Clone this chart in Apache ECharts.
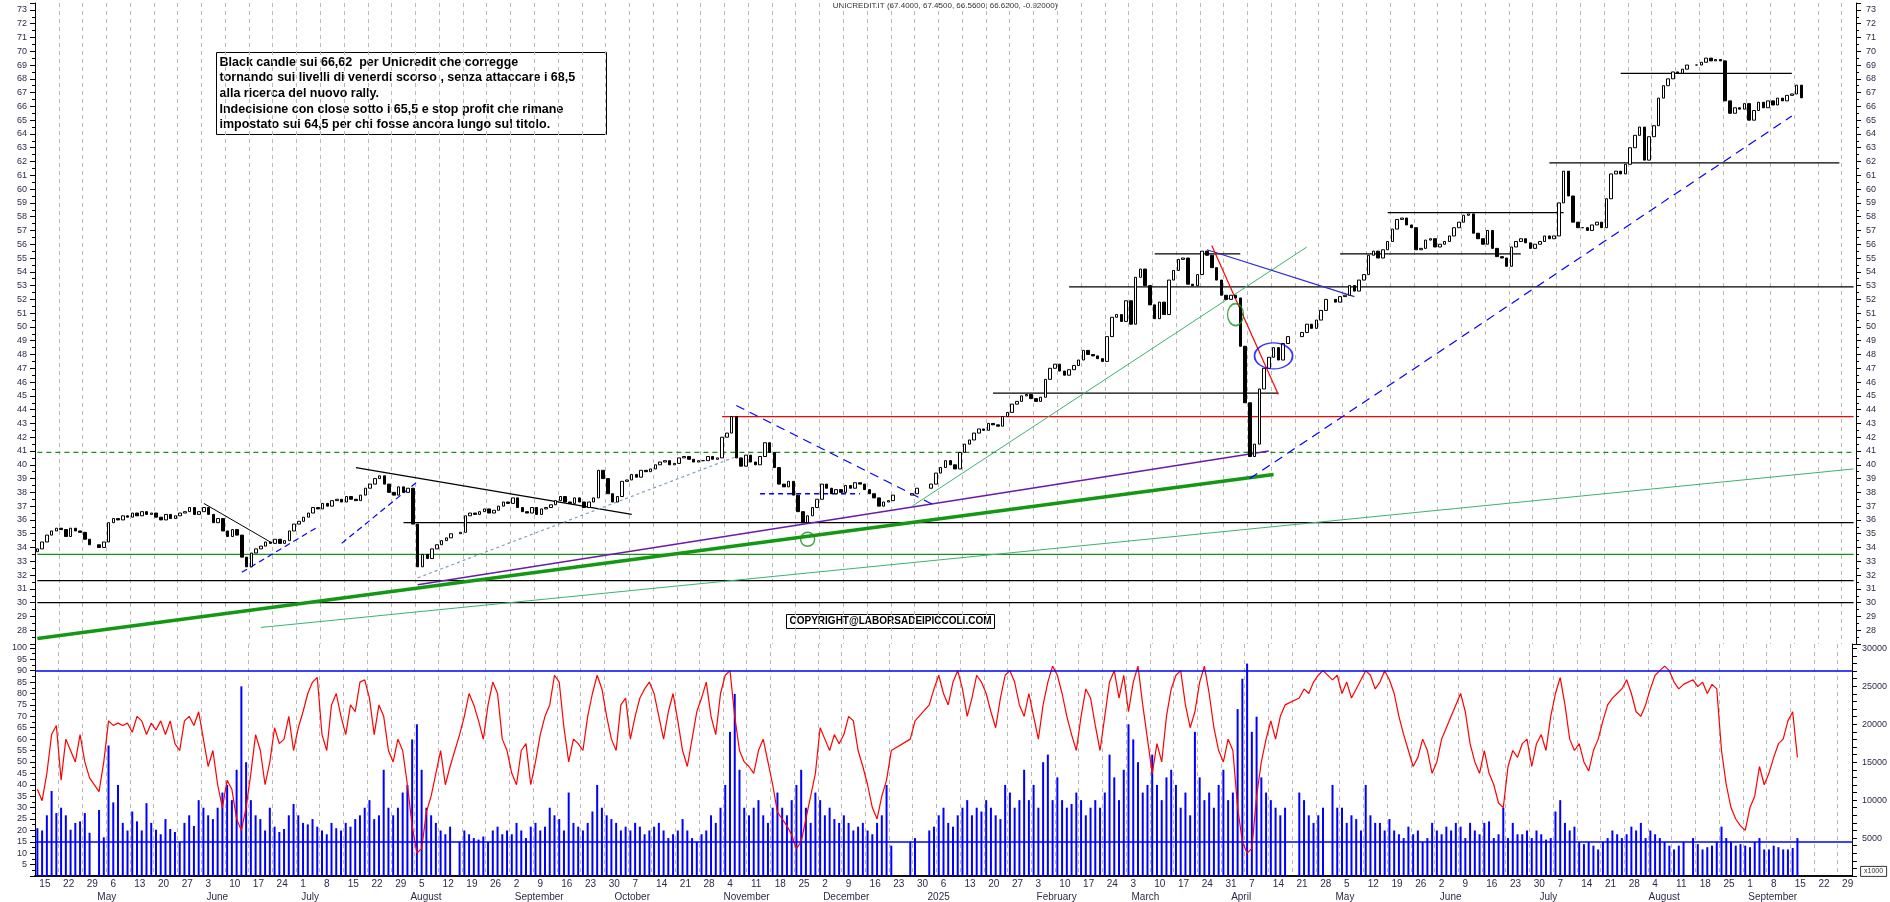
<!DOCTYPE html>
<html>
<head>
<meta charset="utf-8">
<script src="https://cdn.jsdelivr.net/npm/echarts@6/dist/echarts.min.js"></script>
<style>
  html, body { margin: 0; padding: 0; background: #fff; }
  #main { width: 1890px; height: 902px; }
</style>
</head>
<body>
<div id="main"></div>
<script>
// chiusure giornaliere, una riga per settimana (lun..ven), null = borsa chiusa
const closes = [
  33.9, 34.4, 34.9, 35.2, 35.4,   // 2024-04-15
  35.3, 34.8, 35.4, 35.2, 35.1,
  34.6, 34.2, null, 34.0, 34.4,
  35.8, 36.1, 36.0, 36.3, 36.2,   // 05-06
  36.5, 36.3, 36.6, 36.4, 36.5,
  36.2, 36.0, 36.4, 36.1, 36.3,
  36.5, 36.6, 36.9, 36.4, 36.6,
  36.9, 36.4, 35.8, 36.1, 35.2,   // 06-03
  34.8, 35.3, 34.9, 33.3, 32.6,
  33.6, 33.9, 34.1, 34.4, 34.3,
  34.6, 34.3, 34.5, 35.2, 35.7,
  35.9, 36.2, 36.5, 36.9, 36.8,   // 07-01
  37.2, 37.0, 37.4, 37.5, 37.3,
  37.7, 37.5, 37.4, 37.8, 38.3,
  38.6, 39.0, 39.2, 38.6, 38.0,
  37.8, 38.4, 38.0, 38.3, 35.7,
  32.6, 33.5, 33.2, 33.9, 34.2,   // 08-05
  34.5, 34.7, 35.0, null, 35.1,
  36.3, 36.5, 36.4, 36.6, 36.8,
  36.5, 36.7, 37.0, 37.3, 37.2,
  37.6, 36.9, 36.6, 36.5, 36.9,   // 09-02
  36.4, 36.8, 36.9, 37.1, 37.4,
  37.7, 37.3, 37.2, 37.6, 37.3,
  36.9, 37.3, 37.6, 39.6, 39.0,
  37.9, 37.3, 37.7, 38.8, 38.9,   // 09-30
  39.3, 39.1, 39.6, 39.5, 39.7,
  40.0, 40.2, 40.3, 40.0, 40.1,
  40.5, 40.6, 40.4, 40.2, 40.3,
  40.3, 40.6, 40.4, 40.5, 42.0,
  42.3, 43.5, 40.5, 39.9, 40.7,   // 11-04
  40.2, 40.0, 40.6, 41.6, 40.9,
  39.8, 38.6, 38.4, 38.8, 37.8,
  36.6, 35.8, 36.3, 36.9, 37.5,
  38.6, 38.3, 37.9, 38.2, 38.0,   // 12-02
  38.5, 38.3, 38.7, 38.6, 38.2,
  37.9, 37.6, 37.0, 37.3, 37.4,
  37.8, null, null, null, 37.9,
  38.3, null, null, 38.6, 39.4,
  39.8, 40.3, 40.0, 39.7, 40.9,   // 2025-01-06
  41.5, 41.8, 42.3, 42.6, 42.5,
  43.0, 42.9, 42.8, 43.5, 43.8,
  44.4, 44.6, 45.0, 45.1, 44.8,
  44.6, 44.9, 46.2, 47.0, 47.3,   // 02-03
  46.8, 46.5, 46.9, 47.2, 47.6,
  48.3, 48.0, 47.9, 47.7, 47.5,
  49.3, 50.7, 50.9, 50.4, 51.9,
  50.2, 53.6, 54.2, 53.0, 51.6,   // 03-03
  50.6, 51.8, 50.9, 53.4, 54.1,
  54.9, 55.0, 53.1, 53.0, 53.8,
  55.5, 55.2, 54.3, 53.4, 52.3,
  52.0, 52.3, 52.1, 48.6, 44.5,
  40.6, 41.5, 45.5, 47.0, 47.8,   // 04-07
  48.5, 47.6, 48.8, 49.3, null,
  null, 49.6, 50.2, 49.9, 50.5,
  51.2, 52.0, null, 51.8, 52.2,
  52.3, 53.0, 52.6, 53.4, 53.8,   // 05-05
  55.2, 55.5, 55.0, 55.6, 56.2,
  57.1, 57.8, 57.9, 57.4, 57.2,
  55.6, 55.7, 56.3, 56.4, 55.8,
  56.0, 56.2, 56.6, 57.2, 57.6,   // 06-02
  58.1, 58.2, 56.8, 56.4, 56.0,
  57.0, 55.7, 55.1, 55.0, 54.4,
  55.8, 56.2, 56.4, 56.1, 55.7,
  56.0, 56.2, 56.6, 56.4, 56.6,
  59.0, 61.3, 59.5, 57.6, 57.2,   // 07-07
  57.2, 57.0, 57.4, 57.6, 57.2,
  59.3, 61.1, 61.3, 61.1, 61.8,
  63.0, 63.9, 64.5, 62.1, 63.8,
  64.6, 66.6, 67.5, 68.0, 68.5,   // 08-04
  68.4, 68.7, 69.0, null, 69.0,
  69.2, 69.5, 69.3, 69.4, 69.3,
  66.4, 65.5, 65.9, 65.8, 66.2,
  65.0, 65.7, 66.3, 65.9, 66.4,   // 09-01
  66.1, 66.6, 66.4, 66.8, 66.9,
  67.54, 66.62
];

// oscillatore (scala 0-100)
const osc = [
  38, 33, 45, 62, 66,  42, 60, 55, 50, 62,  50, 43, null, 37, 50,
  68, 66, 67, 66, 67,  63, 70, 68, 62, 67,  64, 68, 62, 68, 58,  55, 68, 70, 66, 72,
  60, 48, 55, 40, 30,  42, 38, 25, 20, 30,  45, 62, 55, 40, 50,  65, 58, 60, 70, 55,
  65, 72, 80, 85, 87,  62, 55, 75, 80, 70,  62, 75, 72, 85, 86,  78, 62, 75, 70, 55,  50, 60, 55, 40, 22,
  10, 12, 28, 35, 45,  55, 40, 48, null, 62,  70, 80, 75, 68, 60,  75, 85, 80, 60, 55,
  45, 40, 55, 58, 40,  50, 62, 70, 75, 88,  85, 65, 50, 60, 58,  55, 70, 80, 88, 82,
  70, 60, 55, 75, 78,  60, 70, 78, 82, 85,  80, 70, 60, 72, 80,  68, 55, 48, 60, 72,  78, 85, 70, 62, 80,
  88, 90, 70, 55, 50,  48, 45, 55, 60, 50,  40, 28, 25, 22, 18,  12, 15, 25, 35, 45,
  65, 60, 55, 62, 58,  62, 70, 68, 55, 48,  40, 30, 25, 35, 42,  55, null, null, null, 60,  68, null, null, 75, 82,
  88, 80, 75, 85, 90,  82, 70, 78, 88, 85,  80, 72, 65, 78, 88,  90, 85, 75, 70, 80,
  70, 60, 75, 85, 92,  88, 80, 70, 62, 55,  70, 82, 78, 66, 55,  70, 85, 90, 78, 88,
  72, 85, 92, 75, 60,  45, 58, 50, 70, 82,  88, 90, 75, 65, 72,  85, 92, 80, 65, 55,  50, 60, 55, 30, 15,
  10, 12, 35, 50, 60,  68, 60, 70, 75, null,  null, 78, 82, 80, 85,  88, 90, null, 86, 88,
  80, 85, 78, 82, 86,  90, 88, 82, 85, 90,  86, 80, 70, 62, 55,  48, 52, 60, 55, 45,
  50, 60, 65, 70, 75,  80, 72, 58, 50, 45,  55, 45, 40, 32, 30,  48, 55, 52, 58, 60,  48, 58, 62, 55, 70,
  80, 87, 75, 60, 55,  58, 50, 46, 55, 60,  68, 75, 78, 80, 82,  86, 80, 72, 70, 75,
  82, 88, 90, 92, 90,  85, 82, 84, null, 86,  83, 85, 80, 84, 82,  55, 40, 30, 25, 22,
  20, 30, 35, 48, 40,  45, 52, 58, 60, 68,  72, 52
];

// volumi (x1000)
const volume = [
  6.3, 6.0, 8.0, 11.2, 8.3,  9.0, 8.0, 6.1, 7.0, 7.2,  8.3, 5.7, null, 8.7, 5.1,
  17.2, 9.7, 12.0, 7.0, 6.0,  8.5, 7.2, 6.0, 9.6, 7.0,  6.1, 5.5, 7.5, 6.2, 5.8,  4.5, 7.0, 8.0, 6.6, 10.0,
  9.0, 8.0, 7.5, 9.0, 11.0,  12.0, 10.0, 14.0, 25.0, 15.0,  10.0, 8.0, 7.5, 6.0, 9.0,  6.5, 5.8, 6.2, 8.0, 9.5,
  8.0, 7.0, 6.8, 7.5, 6.5,  6.0, 5.5, 7.0, 6.3, 6.0,  7.0, 6.5, 7.5, 8.0, 9.0,  10.0, 7.5, 8.0, 14.0, 9.0,  8.0, 9.0, 11.0, 12.0, 18.0,
  20.0, 14.0, 9.0, 8.0, 7.0,  6.0, 5.5, 6.5, null, 4.5,  6.0, 5.5, 5.0, 4.8, 5.2,  4.5, 6.0, 6.5, 5.5, 6.0,
  5.5, 7.0, 6.0, 5.0, 6.5,  7.0, 6.0, 6.5, 9.0, 8.0,  7.5, 6.0, 11.0, 7.0, 6.5,  6.0, 7.0, 8.5, 12.0, 9.0,
  8.0, 7.5, 7.0, 6.0, 6.5,  6.0, 7.0, 6.5, 5.5, 6.0,  6.5, 7.0, 6.0, 5.0, 5.5,  6.0, 7.5, 6.0, 5.0, 4.5,  5.5, 6.0, 8.0, 7.0, 9.0,
  12.0, 19.0, 24.0, 14.0, 9.0,  8.0, 9.0, 10.0, 8.0, 7.0,  9.0, 11.0, 9.0, 8.0, 10.0,  12.0, 14.0, 9.0, 7.0, 11.0,
  10.0, 8.0, 9.0, 7.5, 7.0,  8.0, 7.0, 6.0, 6.5, 7.0,  6.0, 5.5, 7.0, 8.0, 12.0,  4.0, null, null, null, 4.5,  5.0, null, null, 6.0, 6.5,
  8.0, 9.0, 7.0, 6.5, 8.0,  9.0, 10.0, 8.0, 9.0, 8.5,  10.0, 9.0, 8.0, 7.5, 12.0,  11.0, 9.0, 10.0, 14.0, 10.0,
  12.0, 9.0, 15.0, 16.0, 10.0,  13.0, 10.0, 9.0, 9.5, 11.0,  10.0, 8.0, 9.0, 10.0, 9.0,  11.0, 16.0, 13.0, 10.0, 14.0,
  20.0, 18.0, 15.0, 11.0, 12.0,  16.0, 12.0, 10.0, 13.0, 14.0,  12.0, 9.0, 11.0, 8.0, 19.0,  13.0, 10.0, 11.0, 9.0, 12.0,  14.0, 10.0, 11.0, 22.0, 26.0,
  28.0, 19.0, 21.0, 13.0, 11.0,  10.0, 9.0, 8.0, 9.0, null,  null, 11.0, 10.0, 8.0, 7.0,  8.0, 9.0, null, 12.0, 9.0,
  9.0, 7.0, 8.0, 7.5, 6.0,  12.0, 8.0, 7.0, 7.0, 6.0,  7.5, 6.0, 5.5, 5.0, 6.5,  5.5, 6.0, 4.5, 5.0, 7.0,
  6.0, 5.5, 6.5, 6.0, 7.0,  6.5, 5.0, 7.0, 6.0, 5.5,  7.0, 7.2, 5.0, 5.5, 9.0,  5.0, 7.0, 5.5, 5.5, 6.0,  5.0, 6.0, 5.5, 4.8, 5.0,
  8.5, 10.0, 7.0, 6.0, 6.5,  4.5, 4.2, 4.5, 4.0, 3.5,  4.5, 5.0, 6.0, 5.5, 5.0,  5.5, 6.5, 6.0, 7.0, 5.0,
  6.0, 5.5, 5.0, 4.5, 4.0,  3.5, 4.0, 4.5, null, 5.0,  4.2, 3.5, 3.8, 4.0, 4.5,  6.5, 5.0, 4.5, 4.0, 4.2,
  4.0, 3.8, 4.5, 5.0, 3.5,  3.5, 4.0, 3.8, 3.5, 3.5,  3.7, 5.0
];

// livelli orizzontali [prezzo, da, a]
const levels = [
  [40.9, '2024-04-15', '2025-10-01'],
  [33.5, '2024-04-15', '2025-10-01'],
  [31.6, '2024-04-15', '2025-10-01'],
  [30.0, '2024-04-15', '2025-10-01'],
  [35.8, '2024-07-31', '2025-10-01'],
  [43.5, '2024-11-01', '2025-10-01'],
  [45.2, '2025-01-21', '2025-04-15'],
  [52.9, '2025-02-12', '2025-10-01'],
  [55.3, '2025-03-10', '2025-04-03'],
  [55.3, '2025-05-02', '2025-06-25'],
  [58.3, '2025-05-16', '2025-07-08'],
  [61.9, '2025-07-03', '2025-09-26'],
  [68.4, '2025-07-24', '2025-09-12'],
  [37.9, '2024-11-13', '2024-12-12']
];
const levelColors = ['#1a8f1a', '#1a8f1a', '#000', '#000', '#000', '#ff0000', '#000', '#000', '#000', '#000', '#000', '#000', '#000', '#0000ff'];

// trendline [da, valore, a, valore]
const trends = [
  ['2024-04-15', 27.4, '2025-04-14', 39.3],
  ['2024-08-05', 31.3, '2025-04-11', 41.0],
  ['2024-06-19', 28.2, '2025-10-01', 39.7],
  ['2024-12-27', 37.0, '2025-04-23', 55.8],
  ['2025-04-07', 39.0, '2025-09-12', 65.3],
  ['2024-06-13', 32.2, '2024-07-05', 35.5],
  ['2024-07-12', 34.3, '2024-08-05', 38.8],
  ['2024-06-03', 37.2, '2024-06-21', 34.4],
  ['2024-07-17', 39.8, '2024-10-07', 36.4],
  ['2024-08-05', 31.8, '2024-11-06', 40.6],
  ['2024-11-06', 44.3, '2025-01-03', 37.0],
  ['2025-03-25', 55.6, '2025-05-07', 52.2],
  ['2025-03-26', 55.9, '2025-04-15', 45.1]
];
const trendStyles = [
  ['#139813', 3.5, 'solid'], ['#6a1aa8', 1.5, 'solid'], ['#3cb371', 1, 'solid'],
  ['#3cb371', 1, 'solid'], ['#0000ff', 1.2, [9, 6]], ['#0000ff', 1.2, [6, 4]],
  ['#0000ff', 1.2, [6, 4]], ['#000', 1, 'solid'], ['#000', 1.2, 'solid'],
  ['#7f9fbf', 1.2, [3, 3]], ['#0000ff', 1.2, [9, 6]], ['#2b2bd6', 1.2, 'solid'],
  ['#ff0000', 1.2, 'solid']
];

// cerchi di evidenza [data, prezzo]
const marks = [['2025-04-02', 50.9], ['2025-04-14', 47.9], ['2024-11-27', 34.6]];
const markStyles = [['#1a8f1a', [16, 22]], ['#0000ff', [38, 26]], ['#1a8f1a', [14, 14]]];

const title = 'UNICREDIT.IT (67.4000, 67.4500, 66.5600, 66.6200, -0.92000)';
const noteLines = [
  'Black candle sui 66,62  per Unicredit che corregge',
  'tornando sui livelli di venerdi scorso , senza attaccare i 68,5',
  'alla ricerca del nuovo rally.',
  'Indecisione con close sotto i 65,5 e stop profit che rimane',
  'impostato sui 64,5 per chi fosse ancora lungo sul titolo.'
];
const copyright = 'COPYRIGHT@LABORSADEIPICCOLI.COM';
const monthNames = ['2025', 'February', 'March', 'April', 'May', 'June', 'July', 'August', 'September', 'October', 'November', 'December'];

// giorni feriali dal 15/04/2024 al 01/10/2025
const days = [];
for (let t = Date.UTC(2024, 3, 15); t <= Date.UTC(2025, 9, 1); t += 86400000) {
  const d = new Date(t);
  if (d.getUTCDay() > 0 && d.getUTCDay() < 6) days.push(d.toISOString().slice(0, 10));
}
const isMonday = (s) => new Date(s + 'T00:00:00Z').getUTCDay() === 1;
const monthStart = {};
days.forEach((s, i) => { const k = s.slice(0, 7); if (!(k in monthStart)) monthStart[k] = i; });
const isMonthStart = (i) => monthStart[days[i].slice(0, 7)] === i && i > 0;

const candles = [];
let prev = 33.7;
days.forEach((s, i) => {
  const c = closes[i];
  if (c == null) { candles.push('-'); return; }
  candles.push([prev, c, Math.min(prev, c), Math.max(prev, c)]);
  prev = c;
});
const pad = (arr) => days.map((s, i) => (arr[i] == null ? '-' : arr[i]));

const series = [{
  type: 'candlestick', xAxisIndex: 0, yAxisIndex: 0, data: candles, barWidth: 3,
  itemStyle: { color: '#fff', color0: '#000', borderColor: '#000', borderColor0: '#000', borderWidth: 1 },
  z: 5
}];
levels.forEach((l, k) => {
  series.push({
    type: 'line', xAxisIndex: 0, yAxisIndex: 0, symbol: 'none', silent: true, z: 3,
    data: [[l[1], l[0]], [l[2], l[0]]],
    lineStyle: { color: levelColors[k], width: k === 13 ? 1.5 : 1.3, type: (k === 0 || k === 13) ? [5, 4] : 'solid' }
  });
});
trends.forEach((t, k) => {
  series.push({
    type: 'line', xAxisIndex: 0, yAxisIndex: 0, symbol: 'none', silent: true, z: 4,
    data: [[t[0], t[1]], [t[2], t[3]]],
    lineStyle: { color: trendStyles[k][0], width: trendStyles[k][1], type: trendStyles[k][2] }
  });
});
marks.forEach((m, k) => {
  series.push({
    type: 'scatter', xAxisIndex: 0, yAxisIndex: 0, data: [m], symbol: 'circle', z: 6,
    symbolSize: markStyles[k][1],
    itemStyle: { color: 'rgba(0,0,0,0)', borderColor: markStyles[k][0], borderWidth: 1.5 }
  });
});
series.push({
  type: 'bar', xAxisIndex: 1, yAxisIndex: 3, data: pad(volume), barWidth: 2,
  itemStyle: { color: '#0000ff' },
  markLine: {
    symbol: 'none', silent: true, label: { show: false },
    lineStyle: { color: '#0000ff', width: 1.5, type: 'solid' },
    data: [{ yAxis: 4.5 }, { yAxis: 27.0 }]
  }
});
series.push({
  type: 'line', xAxisIndex: 1, yAxisIndex: 2, data: pad(osc), symbol: 'none', connectNulls: true,
  lineStyle: { color: '#ff0000', width: 1.2 }, z: 4
});

const labelColor = '#2c2c4a';
const font = 'Liberation Sans';
const splitX = { show: true, interval: (i, v) => isMonday(v), lineStyle: { color: '#b8b8b8', type: [4, 4] } };
const monthLabel = (v) => {
  if (v.slice(0, 7) === '2025-10') return '';
  return monthNames[+v.slice(5, 7) - 1];
};

const option = {
  animation: false,
  backgroundColor: '#fff',
  textStyle: { fontFamily: font },
  grid: [
    { left: 35, right: 34, top: 3, height: 641 },
    { left: 35, right: 34, top: 644, height: 237 }
  ],
  xAxis: [
    { type: 'category', gridIndex: 0, data: days, boundaryGap: true,
      axisLine: { show: false }, axisTick: { show: false }, axisLabel: { show: false }, splitLine: splitX },
    { type: 'category', gridIndex: 1, data: days, boundaryGap: true,
      axisLine: { lineStyle: { color: '#000', width: 1.5 } },
      axisTick: { interval: (i, v) => isMonday(v), length: 12, inside: false, lineStyle: { color: '#000' } },
      axisLabel: { interval: (i, v) => isMonday(v), formatter: (v) => String(+v.slice(8)),
        color: labelColor, fontSize: 10, align: 'left', margin: 3, padding: [0, 0, 0, 2] },
      splitLine: splitX },
    { type: 'category', gridIndex: 1, data: days, boundaryGap: true, position: 'bottom', offset: 14,
      axisLine: { lineStyle: { color: '#000', width: 1.5 } },
      axisTick: { interval: (i) => isMonthStart(i), length: 10, inside: false, lineStyle: { color: '#000' } },
      axisLabel: { interval: (i) => isMonthStart(i), formatter: monthLabel,
        color: labelColor, fontSize: 10, align: 'left', margin: 2, padding: [0, 0, 0, 3] } }
  ],
  yAxis: [
    { type: 'value', gridIndex: 0, min: 27, max: 73.5, interval: 1, position: 'right',
      axisLine: { show: true, lineStyle: { color: '#000' } },
      axisTick: { show: true, length: 5, lineStyle: { color: '#000' } },
      minorTick: { show: true, splitNumber: 2, length: 3, lineStyle: { color: '#000' } },
      axisLabel: { formatter: (v) => (Number.isInteger(v) && v > 27 ? v : ''), color: labelColor, fontSize: 9, margin: 10 },
      splitLine: { show: false } },
    { type: 'value', gridIndex: 0, min: 27, max: 73.5, interval: 1, position: 'left',
      axisLine: { show: true, lineStyle: { color: '#000' } },
      axisTick: { show: true, length: 5, lineStyle: { color: '#000' } },
      minorTick: { show: true, splitNumber: 2, length: 3, lineStyle: { color: '#000' } },
      axisLabel: { formatter: (v) => (Number.isInteger(v) && v > 27 ? v : ''), color: labelColor, fontSize: 9, margin: 8 },
      splitLine: { show: false } },
    { type: 'value', gridIndex: 1, min: 0, max: 101.7, interval: 5, position: 'left',
      axisLine: { show: true, lineStyle: { color: '#000' } },
      axisTick: { show: true, length: 5, lineStyle: { color: '#000' } },
      minorTick: { show: true, splitNumber: 2, length: 3, lineStyle: { color: '#000' } },
      axisLabel: { formatter: (v) => (v > 0 && v <= 100 ? v : ''), color: labelColor, fontSize: 9, margin: 8 },
      splitLine: { show: false } },
    { type: 'value', gridIndex: 1, min: 0, max: 30.58, interval: 1, position: 'right',
      axisLine: { show: true, lineStyle: { color: '#000' } },
      axisTick: { show: true, length: 5, lineStyle: { color: '#000' } },
      axisLabel: { formatter: (v) => (v > 0 && v % 5 === 0 ? v * 1000 : ''), color: labelColor, fontSize: 9, margin: 10 },
      splitLine: { show: false } }
  ],
  series: series,
  graphic: [
    { type: 'text', left: 'center', top: 2, style: { text: title, fontSize: 8, fill: '#333', fontFamily: font } },
    { type: 'group', left: 216, top: 52, children: [
      { type: 'rect', shape: { x: 0, y: 0, width: 390, height: 82 },
        style: { fill: '#fff', stroke: '#000', lineWidth: 1 } },
      { type: 'text', x: 3, y: 2, style: { text: noteLines.join('\n'), fontSize: 12.5, fontWeight: 'bold',
        lineHeight: 15.6, fill: '#000', fontFamily: font } }
    ] },
    { type: 'group', left: 786, top: 614, children: [
      { type: 'rect', shape: { x: 0, y: 0, width: 208, height: 14 },
        style: { fill: '#fff', stroke: '#000', lineWidth: 1 } },
      { type: 'text', x: 104, y: 2, style: { text: copyright, fontSize: 10, fontWeight: 'bold',
        fill: '#000', align: 'center', fontFamily: font } }
    ] },
    { type: 'group', right: 3, top: 866, children: [
      { type: 'rect', shape: { x: 0, y: 0, width: 26, height: 10 }, style: { fill: '#fff', stroke: '#000', lineWidth: 0.8 } },
      { type: 'text', x: 13, y: 1, style: { text: 'x1000', fontSize: 7, fill: '#333', align: 'center' } }
    ] }
  ]
};

const myChart = echarts.init(document.getElementById('main'));
myChart.setOption(option);
window.onresize = function () {
  myChart.resize();
};
</script>
</body>
</html>
